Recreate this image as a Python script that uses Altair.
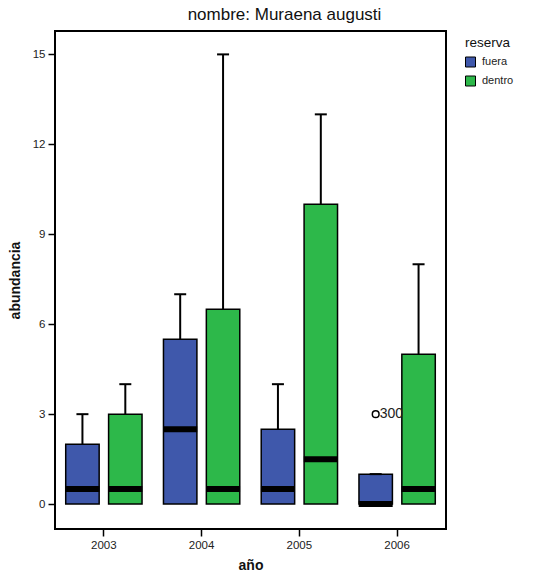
import altair as alt
import pandas as pd

# Box-plot summaries per year and reserve zone
anios = ["2003", "2003", "2004", "2004", "2005", "2005", "2006", "2006"]
reservas = ["fuera", "dentro", "fuera", "dentro", "fuera", "dentro", "fuera", "dentro"]
q1 = [0, 0, 0, 0, 0, 0, 0, 0]
mediana = [0.5, 0.5, 2.5, 0.5, 0.5, 1.5, 0, 0.5]
q3 = [2, 3, 5.5, 6.5, 2.5, 10, 1, 5]
maximo = [3, 4, 7, 15, 4, 13, 1, 8]

# Outlying case
atipico_anio = ["2006"]
atipico_reserva = ["fuera"]
atipico_valor = [3]
atipico_caso = ["300"]

orden_reserva = ["fuera", "dentro"]
colores = ["#3F58AB", "#2DB84A"]
ticks_y = [0, 3, 6, 9, 12, 15]
FONT = "Liberation Sans"

cajas = pd.DataFrame({
    "anio": anios, "reserva": reservas, "q1": q1,
    "mediana": mediana, "q3": q3, "maximo": maximo,
})
atipicos = pd.DataFrame({
    "anio": atipico_anio, "reserva": atipico_reserva,
    "valor": atipico_valor, "caso": atipico_caso,
})

x_enc = alt.X(
    "anio:N",
    scale=alt.Scale(paddingInner=0, paddingOuter=0),
    axis=alt.Axis(title="año", labelAngle=0, titlePadding=8, grid=False),
)
xoff_enc = alt.XOffset(
    "reserva:N",
    scale=alt.Scale(domain=orden_reserva, paddingInner=0.22, paddingOuter=0.25),
)
y_scale = alt.Scale(domain=[-0.83, 15.78], nice=False, zero=False)
y_axis = alt.Axis(title="abundancia", values=ticks_y, titlePadding=10, grid=False)

base = alt.Chart(cajas)

bigote = base.mark_rule(color="black", strokeWidth=2).encode(
    x=x_enc, xOffset=xoff_enc,
    y=alt.Y("q3:Q", scale=y_scale, axis=y_axis),
    y2="maximo:Q",
)

caja = base.mark_bar(stroke="black", strokeWidth=1.5).encode(
    x=x_enc, xOffset=xoff_enc,
    y=alt.Y("q1:Q", scale=y_scale, axis=y_axis),
    y2="q3:Q",
    color=alt.Color(
        "reserva:N",
        scale=alt.Scale(domain=orden_reserva, range=colores),
        legend=alt.Legend(
            title="reserva", orient="none", legendX=410, legendY=5,
            symbolType="square", symbolSize=100, symbolStrokeColor="black",
            symbolStrokeWidth=1, rowPadding=4, titleFontSize=13.5,
            titleFontWeight="normal", labelFontSize=11, titlePadding=7,
            labelOffset=6,
        ),
    ),
)

mediana_lin = base.mark_tick(color="black", thickness=6, size=34, opacity=1).encode(
    x=x_enc, xOffset=xoff_enc,
    y=alt.Y("mediana:Q", scale=y_scale, axis=y_axis),
)

tope = base.mark_tick(color="black", thickness=2, size=12, opacity=1).encode(
    x=x_enc, xOffset=xoff_enc,
    y=alt.Y("maximo:Q", scale=y_scale, axis=y_axis),
)

punto = alt.Chart(atipicos).mark_point(
    shape="circle", filled=False, color="black", size=45, strokeWidth=1.5, opacity=1
).encode(
    x=x_enc, xOffset=xoff_enc,
    y=alt.Y("valor:Q", scale=y_scale, axis=y_axis),
)

etiqueta = alt.Chart(atipicos).mark_text(
    align="left", baseline="middle", dx=4, fontSize=14, font=FONT, color="#222"
).encode(
    x=x_enc, xOffset=xoff_enc,
    y=alt.Y("valor:Q", scale=y_scale, axis=y_axis),
    text="caso:N",
)

chart = alt.layer(bigote, caja, mediana_lin, tope, punto, etiqueta).properties(
    width=391,
    height=498,
    background="white",
    autosize=alt.AutoSizeParams(type="none"),
    padding={"left": 55, "top": 31, "right": 101, "bottom": 50},
    title=alt.TitleParams(
        "nombre: Muraena augusti", fontSize=17, fontWeight="normal",
        font=FONT, anchor="middle", dx=34, offset=7, color="#111",
    ),
).configure_view(
    stroke="black", strokeWidth=2,
).configure_axis(
    domain=False, grid=False, ticks=True, tickColor="black", tickSize=7,
    tickWidth=1.5, labelFont=FONT, labelFontSize=11.5, labelColor="#222",
    labelPadding=3, titleFont=FONT, titleFontSize=14, titleFontWeight="bold",
    titleColor="#111",
).configure_legend(
    labelFont=FONT, titleFont=FONT, labelColor="#222", titleColor="#111",
)

chart.save("out.html", embed_options={"renderer": "svg", "actions": False})
